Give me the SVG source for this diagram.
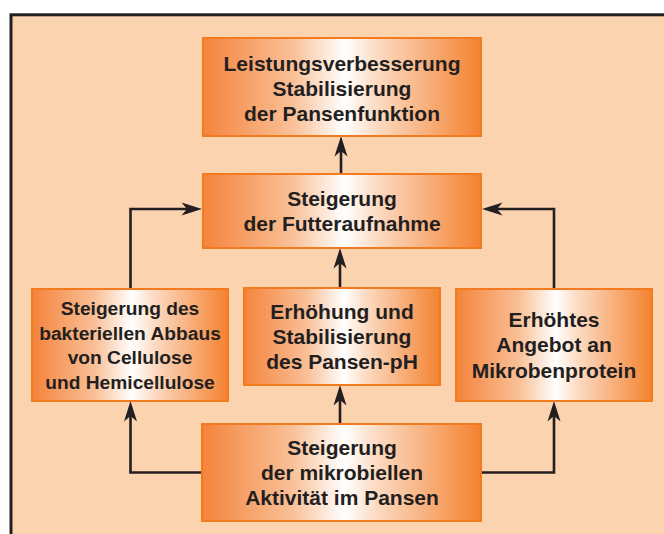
<svg xmlns="http://www.w3.org/2000/svg" width="664" height="534" viewBox="0 0 664 534">
<defs>
<linearGradient id="boxg" x1="0" y1="0" x2="1" y2="0">
<stop offset="0" stop-color="#F4843A"/>
<stop offset="0.12" stop-color="#F69A5E"/>
<stop offset="0.32" stop-color="#F9BF96"/>
<stop offset="0.51" stop-color="#FFFFFF"/>
<stop offset="0.62" stop-color="#FCDCC4"/>
<stop offset="0.82" stop-color="#F8AC76"/>
<stop offset="1" stop-color="#F4822F"/>
</linearGradient>
<marker id="arr" viewBox="-6 -7 22 14" markerWidth="22" markerHeight="14" refX="0" refY="0" orient="auto" markerUnits="userSpaceOnUse">
<path d="M15,0 L-5.5,-6.5 L0,0 L-5.5,6.5 Z" fill="#231F20"/>
</marker>
</defs>
<style>
.box{fill:url(#boxg);stroke:#F47A20;stroke-width:2}
.t{font-family:"Liberation Sans",Arial,Helvetica,sans-serif;font-weight:bold;font-size:21px;fill:#231F20;text-anchor:middle}
.s{font-size:19.2px}
.c{fill:none;stroke:#231F20;stroke-width:2.6;marker-end:url(#arr)}
</style>
<rect x="0" y="0" width="664" height="534" fill="#FFFFFF"/>
<rect x="11" y="14.8" width="680" height="560" fill="#FCD3AF" stroke="#231F20" stroke-width="3"/>

<g id="connectors">
<path class="c" d="M130.5,289 V209 H187"/>
<path class="c" d="M554,289 V209 H497"/>
<path class="c" d="M341,174 V151"/>
<path class="c" d="M340,288 V263"/>
<path class="c" d="M340,424 V400"/>
<path class="c" d="M202,472.5 H130.5 V416"/>
<path class="c" d="M481,472.5 H554 V416"/>
</g>

<g id="leistung">
<rect class="box" x="203" y="38" width="278" height="98"/>
<text class="t" x="342" y="70.5">Leistungsverbesserung</text>
<text class="t" x="342" y="95.5">Stabilisierung</text>
<text class="t" x="342" y="120.5">der Pansenfunktion</text>
</g>

<g id="futter">
<rect class="box" x="203" y="174" width="278" height="74"/>
<text class="t" x="342" y="206">Steigerung</text>
<text class="t" x="342" y="231">der Futteraufnahme</text>
</g>

<g id="abbau">
<rect class="box" x="32" y="289" width="196" height="112"/>
<text class="t s" x="130" y="315">Steigerung des</text>
<text class="t s" x="130" y="339.5">bakteriellen Abbaus</text>
<text class="t s" x="130" y="364">von Cellulose</text>
<text class="t s" x="130" y="388.5">und Hemicellulose</text>
</g>

<g id="ph">
<rect class="box" x="244" y="288" width="196" height="97"/>
<text class="t" x="342" y="318.5">Erhöhung und</text>
<text class="t" x="342" y="343.5">Stabilisierung</text>
<text class="t" x="342" y="368.5">des Pansen-pH</text>
</g>

<g id="protein">
<rect class="box" x="456" y="289" width="196" height="112"/>
<text class="t" x="554" y="327">Erhöhtes</text>
<text class="t" x="554" y="352">Angebot an</text>
<text class="t" x="554" y="378">Mikrobenprotein</text>
</g>

<g id="aktivitaet">
<rect class="box" x="202" y="424" width="279" height="97"/>
<text class="t" x="342" y="454.5">Steigerung</text>
<text class="t" x="342" y="480">der mikrobiellen</text>
<text class="t" x="342" y="505">Aktivität im Pansen</text>
</g>
</svg>
